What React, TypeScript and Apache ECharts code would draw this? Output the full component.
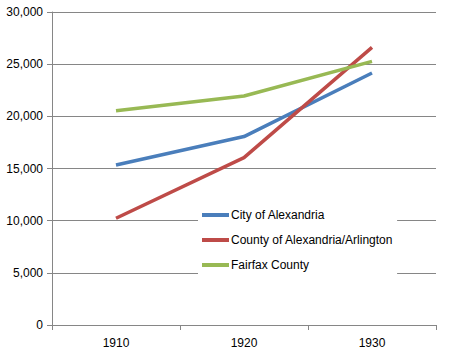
import React, { useEffect, useRef } from "react";
import * as echarts from "echarts";

const years = ["1910", "1920", "1930"];
const cityOfAlexandria = [15329, 18060, 24149];
const countyOfAlexandriaArlington = [10231, 16040, 26615];
const fairfaxCounty = [20536, 21943, 25264];
const seriesNames = ["City of Alexandria", "County of Alexandria/Arlington", "Fairfax County"];
const colors = ["#4A7EBB", "#BE4B48", "#98B954"];

export default function App() {
  const ref = useRef<HTMLDivElement>(null);
  useEffect(() => {
    const chart = echarts.init(ref.current!, null, { renderer: "svg" });
    const font = "'Liberation Sans', Arial, sans-serif";
    const values = [cityOfAlexandria, countyOfAlexandriaArlington, fairfaxCounty];
    chart.setOption({
      animation: false,
      backgroundColor: "#ffffff",
      grid: { left: 52, right: 16, top: 12, bottom: 31, containLabel: false },
      xAxis: {
        type: "category",
        data: years,
        boundaryGap: true,
        axisLine: { lineStyle: { color: "#868686", width: 1 } },
        axisTick: { show: true, length: 5, lineStyle: { color: "#868686" } },
        axisLabel: { color: "#000", fontSize: 12, fontFamily: font, margin: 12 },
        splitLine: { show: false },
      },
      yAxis: {
        type: "value",
        min: 0,
        max: 30000,
        interval: 5000,
        axisLine: { show: true, lineStyle: { color: "#868686", width: 1 } },
        axisTick: { show: true, length: 5, lineStyle: { color: "#868686" } },
        axisLabel: {
          color: "#000",
          fontSize: 12,
          fontFamily: font,
          margin: 9,
          formatter: (v: number) => v.toLocaleString("en-US"),
        },
        splitLine: { show: true, lineStyle: { color: "#868686", width: 1 } },
      },
      legend: {
        orient: "vertical",
        left: 198,
        top: 206,
        width: 202,
        padding: [2, 4, 4, 4],
        backgroundColor: "#ffffff",
        itemWidth: 27,
        itemHeight: 4,
        itemGap: 11,
        icon: "rect",
        textStyle: { color: "#000", fontSize: 12, fontFamily: font, lineHeight: 14, padding: [0, 0, 0, -3] },
        data: seriesNames,
      },
      series: seriesNames.map((name, i) => ({
        name,
        type: "line",
        data: values[i],
        symbol: "none",
        lineStyle: { width: 3.5, color: colors[i] },
        itemStyle: { color: colors[i] },
      })),
    });
    return () => chart.dispose();
  }, []);
  return <div ref={ref} style={{ width: 452, height: 356, position: "absolute", left: 0, top: 0 }} />;
}
